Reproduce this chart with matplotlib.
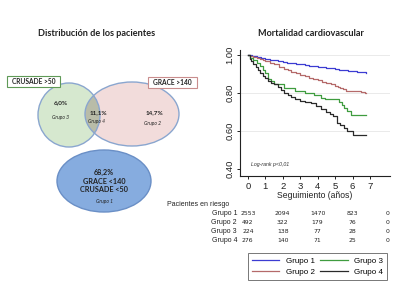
import matplotlib
matplotlib.use("Agg")
import matplotlib.pyplot as plt
from matplotlib.patches import Ellipse, Rectangle
from matplotlib.transforms import blended_transform_factory

# ---------------- data ----------------
venn_pcts = {"Grupo 3": "6,0%", "Grupo 4": "11,1%", "Grupo 2": "14,7%", "Grupo 1": "68,2%"}

g1_t = [0, 0.25, 0.5, 0.75, 1, 1.25, 1.5, 1.75, 2, 2.25, 2.5, 2.75, 3, 3.25, 3.5, 3.75, 4, 4.25,
        4.5, 4.75, 5, 5.25, 5.5, 5.75, 6, 6.25, 6.5, 6.8]
g1_s = [1.0, 0.995, 0.99, 0.985, 0.98, 0.975, 0.97, 0.966, 0.962, 0.958, 0.955, 0.952, 0.949, 0.946,
        0.943, 0.940, 0.937, 0.934, 0.931, 0.928, 0.925, 0.922, 0.919, 0.916, 0.913, 0.910, 0.907, 0.904]

g2_t = [0, 0.15, 0.3, 0.5, 0.7, 0.85, 1.0, 1.25, 1.5, 1.8, 2.1, 2.3, 2.5, 2.75, 3.0, 3.25, 3.5, 3.75,
        4.0, 4.25, 4.5, 4.75, 5.0, 5.15, 5.3, 5.45, 5.6, 6.0, 6.5, 6.7, 6.8]
g2_s = [1.0, 0.995, 0.99, 0.984, 0.977, 0.971, 0.965, 0.958, 0.95, 0.938, 0.925, 0.918, 0.91, 0.903,
        0.895, 0.888, 0.88, 0.873, 0.866, 0.859, 0.852, 0.845, 0.838, 0.831, 0.825, 0.818, 0.812,
        0.81, 0.805, 0.80, 0.80]

g3_t = [0, 0.1, 0.3, 0.5, 0.7, 0.85, 1.0, 1.15, 1.3, 1.5, 2.1, 2.7, 3.3, 3.8, 4.2, 4.4, 5.2, 5.4,
        5.5, 5.7, 5.9, 6.8]
g3_s = [1.0, 0.985, 0.97, 0.955, 0.94, 0.92, 0.905, 0.875, 0.862, 0.845, 0.825, 0.81, 0.80, 0.79,
        0.775, 0.765, 0.752, 0.735, 0.72, 0.705, 0.685, 0.685]

g4_t = [0, 0.1, 0.2, 0.3, 0.45, 0.6, 0.7, 0.85, 1.0, 1.16, 1.3, 1.5, 1.7, 1.9, 2.1, 2.3, 2.5, 2.7,
        3.0, 3.3, 3.6, 3.9, 4.2, 4.5, 4.7, 4.9, 5.1, 5.3, 5.5, 5.7, 6.0, 6.8]
g4_s = [1.0, 0.98, 0.965, 0.95, 0.935, 0.92, 0.906, 0.89, 0.876, 0.862, 0.852, 0.844, 0.83, 0.815,
        0.80, 0.79, 0.78, 0.77, 0.755, 0.75, 0.745, 0.73, 0.715, 0.70, 0.69, 0.676, 0.64, 0.63,
        0.614, 0.60, 0.578, 0.578]

groups = ["Grupo 1", "Grupo 2", "Grupo 3", "Grupo 4"]
colors = ["#3c3cd2", "#b56a6a", "#3f9c3f", "#2a2a2a"]

risk_times = [0, 2, 4, 6, 8]
risk_g1 = [2553, 2094, 1470, 823, 0]
risk_g2 = [492, 322, 179, 76, 0]
risk_g3 = [224, 138, 77, 28, 0]
risk_g4 = [276, 140, 71, 25, 0]

x_ticks = [0, 1, 2, 3, 4, 5, 6, 7]
y_ticks = [0.40, 0.60, 0.80, 1.00]

# ---------------- figure ----------------
W, H = 405, 304
fig = plt.figure(figsize=(W / 100, H / 100), dpi=100)
fig.patch.set_facecolor("white")

# overlay axes in pixel coordinates
ov = fig.add_axes([0, 0, 1, 1])
ov.set_xlim(0, W)
ov.set_ylim(H, 0)
ov.axis("off")

TF = "Lato"

# titles
ov.text(97, 33, "Distribución de los pacientes", ha="center", va="center",
        fontsize=6.6, fontweight="bold", family=TF, color="#222222")
ov.text(311, 33, "Mortalidad cardiovascular", ha="center", va="center",
        fontsize=6.6, fontweight="bold", family=TF, color="#222222")

# Venn diagram
edge = "#8aa6cf"
green_e = Ellipse((69, 115), 62, 64, facecolor="#d6e8cf", edgecolor="none", zorder=2)
red_e = Ellipse((132, 114), 94, 64, facecolor="#f2dcdb", edgecolor="none", zorder=2)
ov.add_patch(green_e)
ov.add_patch(red_e)
overlap = Ellipse((132, 114), 94, 64, facecolor="#b9bca8", edgecolor="none", zorder=2.5)
ov.add_patch(overlap)
overlap.set_clip_path(green_e)
ov.add_patch(Ellipse((69, 115), 62, 64, facecolor="none", edgecolor=edge, lw=1.0, zorder=3))
ov.add_patch(Ellipse((132, 114), 94, 64, facecolor="none", edgecolor=edge, lw=1.0, zorder=3))
ov.add_patch(Ellipse((104, 181), 94, 62, facecolor="#86acdf", edgecolor="#6a8fc6", lw=1.0, zorder=2))

# labels boxes
ov.add_patch(Rectangle((7, 76), 53, 11, facecolor="white", edgecolor="#5f9a57", lw=0.8, zorder=4))
ov.text(33.5, 81.5, "CRUSADE >50", ha="center", va="center", fontsize=4.8,
        fontweight="bold", family=TF, color="#222222", zorder=5)
ov.add_patch(Rectangle((148, 77), 49, 11, facecolor="white", edgecolor="#c98d8d", lw=0.8, zorder=4))
ov.text(172.5, 82.5, "GRACE >140", ha="center", va="center", fontsize=4.8,
        fontweight="bold", family=TF, color="#222222", zorder=5)

tk = dict(ha="center", va="center", family=TF, color="#222222", zorder=5)
ov.text(61, 103, venn_pcts["Grupo 3"], fontsize=4.6, fontweight="bold", **tk)
ov.text(60, 118, "Grupo 3", fontsize=3.6, style="italic", **tk)
ov.text(98, 113, venn_pcts["Grupo 4"], fontsize=4.6, fontweight="bold", **tk)
ov.text(96, 122, "Grupo 4", fontsize=3.6, style="italic", **tk)
ov.text(155, 113, venn_pcts["Grupo 2"], fontsize=4.6, fontweight="bold", **tk)
ov.text(152, 123, "Grupo 2", fontsize=3.6, style="italic", **tk)
ov.text(104, 172, venn_pcts["Grupo 1"], fontsize=5.2, fontweight="bold", **tk)
ov.text(104, 181, "GRACE <140", fontsize=5.2, fontweight="bold", **tk)
ov.text(104, 190, "CRUSADE <50", fontsize=5.2, fontweight="bold", **tk)
ov.text(104, 202, "Grupo 1", fontsize=3.6, style="italic", **tk)

# Kaplan-Meier axes
ax = fig.add_axes([240 / W, 1 - 176 / H, 150 / W, 126 / H])
ax.set_xlim(-0.45, 8.15)
ax.set_ylim(0.363, 1.025)
for sp in ["top", "right"]:
    ax.spines[sp].set_visible(False)
for sp in ["left", "bottom"]:
    ax.spines[sp].set_linewidth(0.8)
    ax.spines[sp].set_color("#222222")
ax.set_xticks(x_ticks)
ax.set_yticks(y_ticks)
ax.set_yticklabels([f"{v:.2f}" for v in y_ticks], rotation=90, va="center")
ax.tick_params(axis="both", labelsize=6.8, length=2.5, width=0.7, pad=1.5, colors="#222222")
for lab in ax.get_xticklabels() + ax.get_yticklabels():
    lab.set_family("Liberation Sans")
for v in [0.60, 0.80, 1.00]:
    ax.axhline(v, color="#e6e6e6", lw=0.6, zorder=0)

series = [(g1_t, g1_s), (g2_t, g2_s), (g3_t, g3_s), (g4_t, g4_s)]
handles = []
for (t, s), c, name in zip(series, colors, groups):
    h, = ax.step(t, s, where="post", color=c, lw=0.9, label=name)
    handles.append(h)

ax.text(0.2, 0.425, "Log-rank p<0,01", fontsize=3.8, style="italic",
        family="Liberation Sans", color="#333333", va="center")
ax.set_xlabel("Seguimiento (años)", fontsize=6.2, family="Liberation Sans",
              labelpad=0.5, color="#222222")

# risk table
tr = blended_transform_factory(ax.transData, ov.transData)
ov.text(167, 205, "Pacientes en riesgo", ha="left", va="center", fontsize=5.0,
        family="Liberation Sans", color="#222222")
rows = [risk_g1, risk_g2, risk_g3, risk_g4]
row_y = [213.5, 222.3, 231.3, 240.5]
for name, vals, yy in zip(groups, rows, row_y):
    ov.text(237, yy, name, ha="right", va="center", fontsize=5.0,
            family="Liberation Sans", color="#222222")
    for tt, v in zip(risk_times, vals):
        ov.text(tt, yy, str(v), transform=tr, ha="center", va="center", fontsize=4.4,
                family="Liberation Sans Narrow", color="#222222")

# legend
leg = fig.legend(handles=handles, labels=groups, ncol=2,
                 bbox_to_anchor=(244 / W, 1 - 281 / H, 147 / W, 29 / H),
                 loc="center", mode="expand", fontsize=5.8, frameon=True,
                 fancybox=False, handlelength=3.4, handletextpad=0.8,
                 columnspacing=1.2, borderpad=0.5, labelspacing=0.4)
leg.get_frame().set_edgecolor("#555555")
leg.get_frame().set_linewidth(0.7)
for txt in leg.get_texts():
    txt.set_family("Liberation Sans")
for lh in leg.legend_handles:
    lh.set_linewidth(0.9)

fig.savefig("out.png", dpi=100, facecolor="white")
